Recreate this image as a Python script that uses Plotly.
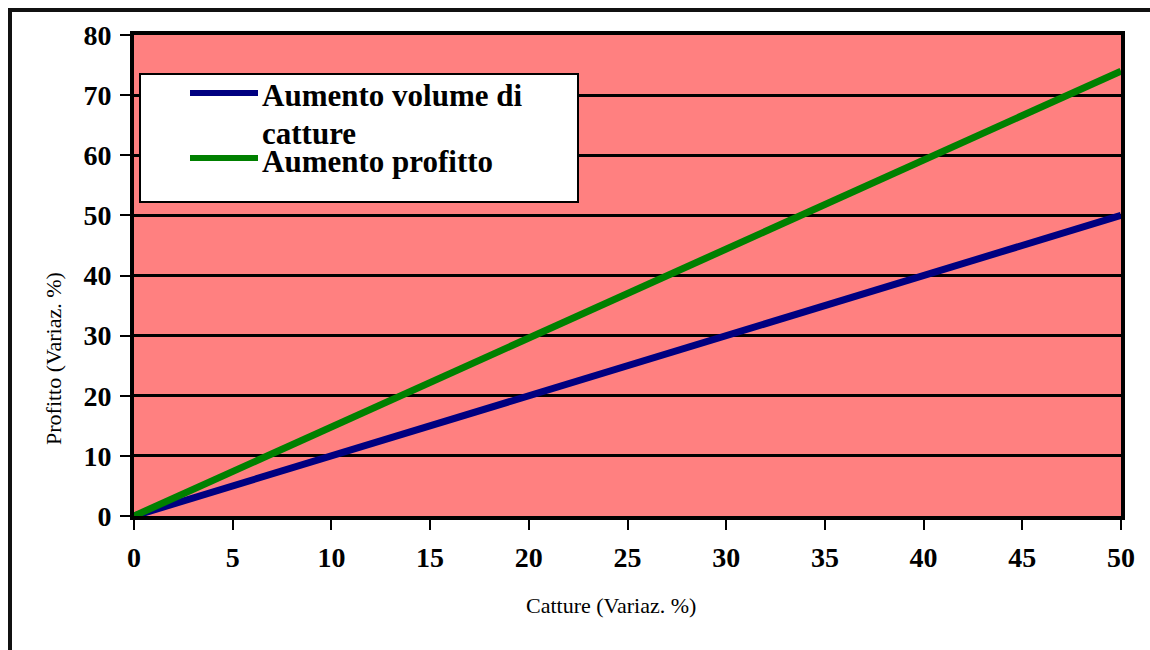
import plotly.graph_objects as go

# Catture (Variaz. %) on x, Profitto (Variaz. %) on y
catture = [0, 10, 20, 30, 40, 50]
volume_catture = [0, 10, 20, 30, 40, 50]
profitto = [0, 14.8, 29.6, 44.4, 59.2, 74]

series_names = ["Aumento volume di catture", "Aumento profitto"]
series_colors = ["#000080", "#008000"]

x_ticks = [0, 5, 10, 15, 20, 25, 30, 35, 40, 45, 50]
y_ticks = [0, 10, 20, 30, 40, 50, 60, 70, 80]

W, H = 1150, 650
L, R, T, B = 134, 1121, 35, 516


def px(x):
    return (x - L) / (R - L)


def py(y):
    return (B - y) / (B - T)


FONT = "Liberation Serif, Times New Roman, serif"

fig = go.Figure()
for ys, name, col in zip([volume_catture, profitto], series_names, series_colors):
    fig.add_trace(go.Scatter(
        x=catture, y=ys, mode="lines", name=name,
        line=dict(color=col, width=7), showlegend=False,
    ))

axis_common = dict(
    showline=True, linecolor="black", linewidth=4, mirror=True,
    ticks="outside", ticklen=10, tickwidth=2, tickcolor="black",
    tickfont=dict(family=FONT, size=28, color="black", weight="bold"),
    zeroline=False,
)

fig.update_xaxes(range=[0, 50], tickvals=x_ticks, showgrid=False,
                 ticklabelstandoff=3, **axis_common)
fig.update_yaxes(range=[0, 80], tickvals=y_ticks, showgrid=True,
                 gridcolor="black", gridwidth=2.5, ticklabelstandoff=3,
                 **axis_common)

shapes = [
    # outer frame around the chart
    dict(type="rect", xref="paper", yref="paper",
         x0=px(10), x1=px(1170), y0=py(670), y1=py(10),
         line=dict(color="#111111", width=4), fillcolor="rgba(0,0,0,0)",
         layer="above"),
    # legend box
    dict(type="rect", xref="paper", yref="paper",
         x0=px(140), x1=px(578), y0=py(202), y1=py(74),
         line=dict(color="black", width=2), fillcolor="white", layer="above"),
]
legend_rows = [93, 158]
for yrow, col in zip(legend_rows, series_colors):
    shapes.append(dict(type="line", xref="paper", yref="paper",
                       x0=px(190), x1=px(258), y0=py(yrow), y1=py(yrow),
                       line=dict(color=col, width=6), layer="above"))

legend_font = dict(family=FONT, size=31, color="black", weight="bold")
annotations = [
    dict(text="Aumento volume di", x=px(260), y=py(96), xref="paper", yref="paper",
         xanchor="left", yanchor="middle", showarrow=False, font=legend_font),
    dict(text="catture", x=px(260), y=py(133), xref="paper", yref="paper",
         xanchor="left", yanchor="middle", showarrow=False, font=legend_font),
    dict(text="Aumento profitto", x=px(260), y=py(161), xref="paper", yref="paper",
         xanchor="left", yanchor="middle", showarrow=False, font=legend_font),
    dict(text="Catture (Variaz. %)", x=px(611), y=py(605), xref="paper", yref="paper",
         xanchor="center", yanchor="middle", showarrow=False,
         font=dict(family=FONT, size=22, color="black")),
    dict(text="Profitto (Variaz. %)", x=px(53), y=py(359), xref="paper", yref="paper",
         xanchor="center", yanchor="middle", showarrow=False, textangle=-90,
         font=dict(family=FONT, size=22, color="black")),
]

fig.update_layout(
    width=W, height=H,
    margin=dict(l=L, r=W - R, t=T, b=H - B),
    plot_bgcolor="#FF8080", paper_bgcolor="white",
    shapes=shapes, annotations=annotations,
    showlegend=False,
)

fig.write_html("out.html")
